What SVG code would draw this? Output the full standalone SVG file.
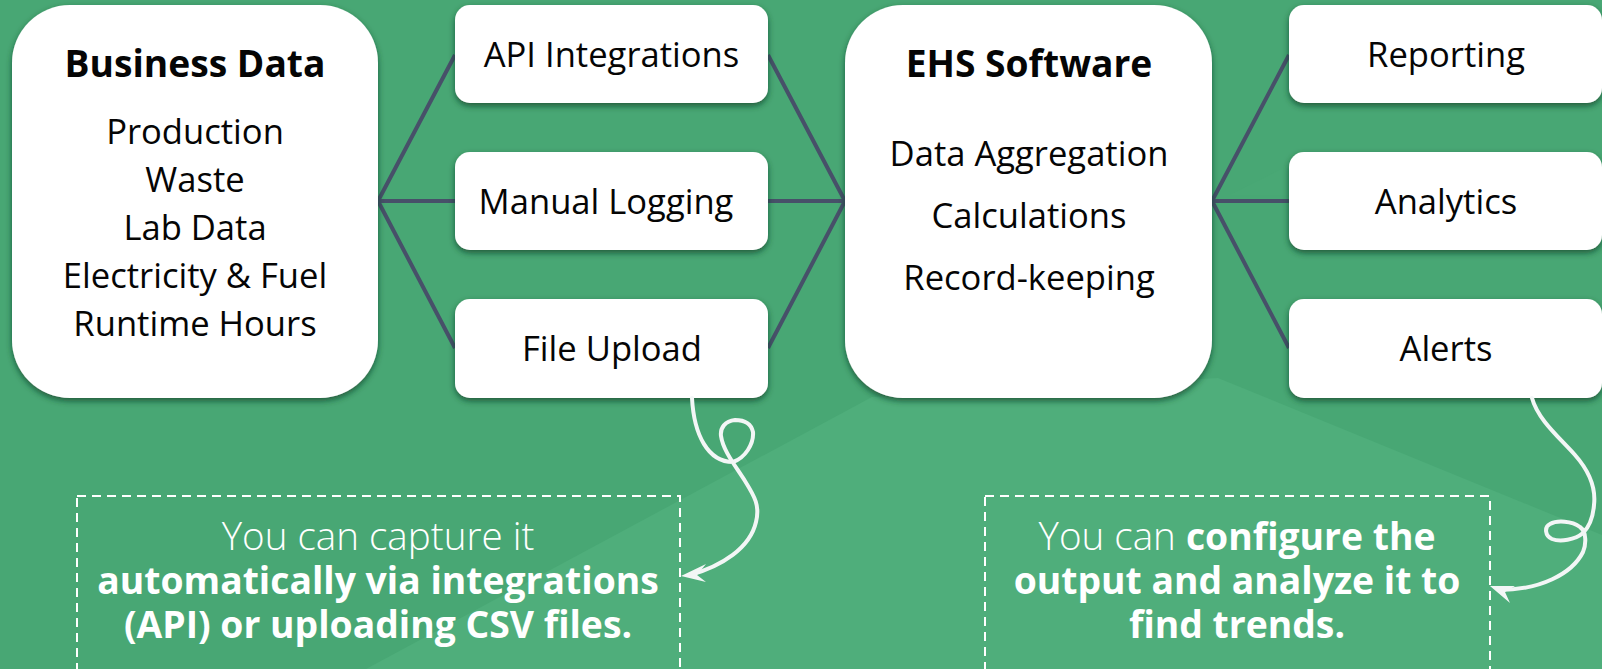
<svg xmlns="http://www.w3.org/2000/svg" width="1602" height="669" viewBox="0 0 1602 669">
<style>
text{font-family:"Open Sans","Noto Sans",sans-serif;text-anchor:middle;fill:#050505}
.t{font-size:37.2px;font-weight:700}
.b{font-size:34.6px}
.n{fill:#fff;filter:url(#s)}
.c{stroke:#475069;stroke-width:4;fill:none}
.d{fill:none;stroke:#fff;stroke-width:2;stroke-dasharray:9 6}
.a{fill:none;stroke:#f3f6f6;stroke-width:4;stroke-linecap:round}
.h{fill:#f3f6f6}
.w{font-size:38.6px;fill:#fff;font-weight:300}
.s{font-weight:700;font-size:37.3px}
</style>
<defs>
<filter id="s" x="-10%" y="-10%" width="120%" height="125%"><feDropShadow dx="0" dy="3" stdDeviation="3" flood-color="#163f2a" flood-opacity=".75"/></filter>
</defs>
<rect width="1602" height="669" fill="#4fae7b"/>
<polygon points="0,0 1602,0 1602,535 1218,378 872,397 366,669 0,669" fill="#48a774"/>
<polygon points="1230,195 1289,165 1289,195" fill="#49a875"/>
<g id="connectors">
<path class="c" d="M378 201L455 55M378 201H455M378 201L455 348M768 55L845 201M768 201H845M768 348L845 201M1212 201L1289 55M1212 201H1289M1212 201L1289 348"/>
</g>
<g id="business-data">
<rect class="n" x="12" y="5" width="366" height="393" rx="58"/>
<text class="t" x="195" y="77">Business Data</text>
<text class="b" x="195" y="144">Production</text>
<text class="b" x="195" y="192">Waste</text>
<text class="b" x="195" y="240">Lab Data</text>
<text class="b" x="195" y="288">Electricity &amp; Fuel</text>
<text class="b" x="195" y="336">Runtime Hours</text>
</g>
<g id="api-integrations"><rect class="n" x="455" y="5" width="313" height="98" rx="15"/><text class="b" x="611.500" y="67">API Integrations</text></g>
<g id="manual-logging"><rect class="n" x="455" y="152" width="313" height="98" rx="15"/><text class="b" x="606" y="214">Manual Logging</text></g>
<g id="file-upload"><rect class="n" x="455" y="299" width="313" height="99" rx="15"/><text class="b" x="612" y="361">File Upload</text></g>
<g id="ehs-software">
<rect class="n" x="845" y="5" width="367" height="393" rx="58"/>
<text class="t" x="1029" y="77">EHS Software</text>
<text class="b" x="1029" y="166">Data Aggregation</text>
<text class="b" x="1029" y="228">Calculations</text>
<text class="b" x="1029" y="290">Record-keeping</text>
</g>
<g id="reporting"><rect class="n" x="1289" y="5" width="313" height="98" rx="15"/><text class="b" x="1446" y="67">Reporting</text></g>
<g id="analytics"><rect class="n" x="1289" y="152" width="313" height="98" rx="15"/><text class="b" x="1446" y="214">Analytics</text></g>
<g id="alerts"><rect class="n" x="1289" y="299" width="313" height="99" rx="15"/><text class="b" x="1446" y="361">Alerts</text></g>
<g id="note-capture">
<rect class="d" x="77" y="496" width="603" height="190"/>
<text class="w" x="378" y="550">You can capture it</text>
<text class="w s" x="378" y="594">automatically via integrations</text>
<text class="w s" x="378" y="638">(API) or uploading CSV files.</text>
</g>
<g id="note-configure">
<rect class="d" x="985" y="496" width="505" height="190"/>
<text class="w" x="1237" y="550">You can <tspan class="s">configure the</tspan></text>
<text class="w s" x="1237" y="594">output and analyze it to</text>
<text class="w s" x="1237" y="638">find trends.</text>
</g>
<g id="connectors-notes">
<path class="a" d="M692 398C694 435 708 462 733 462C745 458 754 444 753 432C751 423 743 420 735 420C725 421 720 428 721 436C723 450 734 464 745 481C755 497 760 506 756 522C750 548 722 566 690 575"/>
<polygon class="h" points="681,576 706,564 697,575 706,582"/>
<path class="a" d="M1532 398C1538 420 1560 438 1575 455C1590 472 1596 488 1594 505C1593 518 1588 528 1583 533C1575 540 1560 542 1552 539C1545 536 1544 527 1550 524C1557 520 1572 521 1580 527C1587 532 1586 545 1583 552C1572 574 1540 590 1499 590"/>
<polygon class="h" points="1490,586 1515,586 1505,592 1510,603"/>
</g>
</svg>
